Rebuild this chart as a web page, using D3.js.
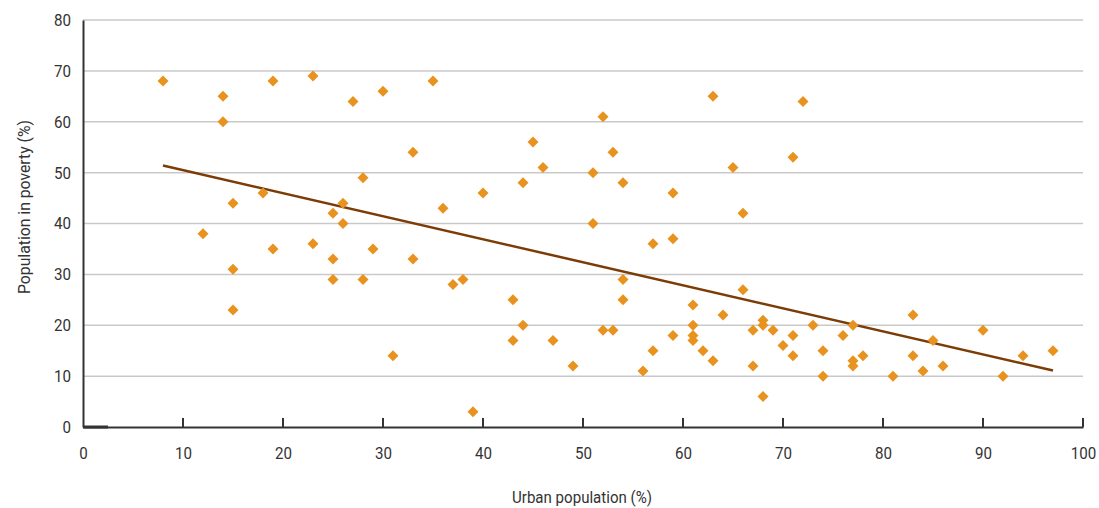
<!DOCTYPE html>
<html>
<head>
<meta charset="utf-8">
<script src="https://cdn.jsdelivr.net/npm/d3@7"></script>
<style>
  html, body { margin: 0; padding: 0; background: #fff; }
  svg { display: block; }
  text { font-family: "Roboto", "Liberation Sans", sans-serif; fill: #333; }
</style>
</head>
<body>
<svg id="chart" width="1099" height="508"></svg>
<script>
const urbanPct = [8,12,14,14,15,15,15,18,19,19,23,23,25,25,25,26,26,27,28,28,29,30,31,33,33,35,36,37,38,39,40,43,43,44,44,45,46,47,49,51,51,52,52,53,53,54,54,54,56,57,57,59,59,59,61,61,61,61,62,63,63,64,65,66,66,67,67,68,68,68,69,70,71,71,71,72,73,74,74,76,77,77,77,78,81,83,83,84,85,86,90,92,94,97];
const povertyPct = [68,38,65,60,44,31,23,46,68,35,69,36,42,33,29,44,40,64,49,29,35,66,14,54,33,68,43,28,29,3,46,25,17,20,48,56,51,17,12,50,40,61,19,54,19,48,29,25,11,36,15,46,37,18,24,20,18,17,15,65,13,22,51,42,27,19,12,21,20,6,19,16,53,18,14,64,20,15,10,18,20,13,12,14,10,22,14,11,17,12,19,10,14,15];
const trendX = [8, 97];
const trendY = [51.4, 11.1];
const xTicks = [0,10,20,30,40,50,60,70,80,90,100];
const yTicks = [0,10,20,30,40,50,60,70,80];
const xTitle = "Urban population (%)";
const yTitle = "Population in poverty (%)";

const W = 1099, H = 508;
const m = {left: 83, top: 20, right: 16, bottom: 81};
const svg = d3.select("#chart");
const x = d3.scaleLinear().domain([0, 100]).range([m.left, W - m.right]);
const y = d3.scaleLinear().domain([0, 80]).range([H - m.bottom, m.top]);

// gridlines
svg.append("g").selectAll("line").data(yTicks.filter(d => d > 0)).join("line")
  .attr("x1", x(0)).attr("x2", x(100))
  .attr("y1", d => y(d)).attr("y2", d => y(d))
  .attr("stroke", "#c9c9c9").attr("stroke-width", 1.5);

// y axis
const yAxis = svg.append("g").attr("transform", `translate(${x(0)},0)`)
  .call(d3.axisLeft(y).tickValues(yTicks).tickSize(0).tickPadding(12));
yAxis.select(".domain").attr("stroke", "#333").attr("stroke-width", 2);
yAxis.selectAll("text").style("font-size", "17px").attr("fill", "#333")
  .style("font-family", '"Roboto", sans-serif')
  .attr("textLength", d => String(d).length * 8.5).attr("lengthAdjust", "spacingAndGlyphs");

// x axis with inward ticks
const xAxis = svg.append("g").attr("transform", `translate(0,${y(0)})`)
  .call(d3.axisBottom(x).tickValues(xTicks).tickSize(0).tickPadding(20));
xAxis.select(".domain").attr("stroke", "#333").attr("stroke-width", 2);
xAxis.selectAll("text").style("font-size", "17px").attr("fill", "#333")
  .style("font-family", '"Roboto", sans-serif')
  .attr("textLength", d => String(d).length * 8.5).attr("lengthAdjust", "spacingAndGlyphs");
svg.append("g").selectAll("line").data(xTicks.filter(d => d > 0)).join("line")
  .attr("x1", d => x(d)).attr("x2", d => x(d))
  .attr("y1", y(0)).attr("y2", y(0) - 9)
  .attr("stroke", "#333").attr("stroke-width", 2);
svg.append("line").attr("x1", x(0)).attr("x2", x(2.5))
  .attr("y1", y(0)).attr("y2", y(0)).attr("stroke", "#333").attr("stroke-width", 3);

// trend line
svg.append("path")
  .datum(trendX.map((d, i) => [d, trendY[i]]))
  .attr("d", d3.line().x(d => x(d[0])).y(d => y(d[1])))
  .attr("fill", "none").attr("stroke", "#7b3c05").attr("stroke-width", 2.5);

// points (diamonds)
const r = 5.5;
svg.append("g").selectAll("path").data(urbanPct.map((d, i) => [d, povertyPct[i]])).join("path")
  .attr("transform", d => `translate(${x(d[0])},${y(d[1])})`)
  .attr("d", `M0,${-r}L${r},0L0,${r}L${-r},0Z`)
  .attr("fill", "#e8931f");

// axis titles
svg.append("text").attr("x", 582).attr("y", 503).attr("text-anchor", "middle")
  .style("font-size", "17px")
  .attr("textLength", 140).attr("lengthAdjust", "spacingAndGlyphs").text(xTitle);
svg.append("text").attr("transform", `translate(30,207) rotate(-90)`)
  .attr("text-anchor", "middle").style("font-size", "17px")
  .attr("textLength", 174).attr("lengthAdjust", "spacingAndGlyphs").text(yTitle);
</script>
</body>
</html>
